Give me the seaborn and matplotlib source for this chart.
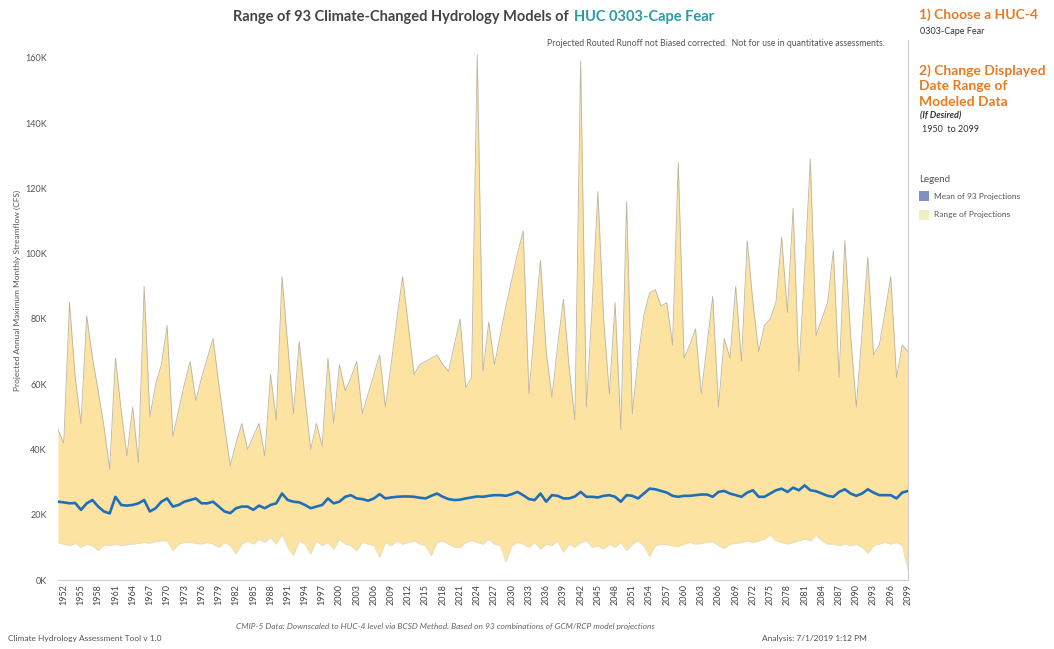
import numpy as np
import pandas as pd
import matplotlib
matplotlib.use("Agg")
import matplotlib.pyplot as plt
import seaborn as sns
from matplotlib.ticker import FuncFormatter
from matplotlib.patches import Rectangle

# ---------------- data (thousands of CFS) ----------------
years = list(range(1951, 2100))

upper_k = [
    46, 42, 85, 62, 48, 81, 68, 58, 47, 34,
    68, 52, 38, 53, 36, 90, 50, 60, 66, 78,
    44, 52, 60, 67, 55, 62, 68, 74, 60, 47,
    35, 42, 48, 40, 44, 48, 38, 63, 49, 93,
    72, 51, 73, 56, 40, 48, 41, 68, 48, 66,
    58, 62, 67, 51, 57, 63, 69, 53, 66, 80,
    93, 78, 63, 66, 67, 68, 69, 66, 64, 72,
    80, 59, 62, 161, 64, 79, 66, 75, 84, 92,
    100, 107, 57, 78, 98, 70, 56, 72, 86, 65,
    49, 159, 53, 84, 119, 80, 57, 85, 46, 116,
    51, 68, 81, 88, 89, 84, 85, 72, 128, 68,
    72, 77, 57, 72, 87, 53, 74, 68, 90, 67,
    104, 85, 70, 78, 80, 85, 105, 82, 114, 64,
    95, 129, 75, 80, 85, 101, 62, 104, 75, 53,
    76, 99, 69, 72, 82, 93, 62, 72, 70,
]

lower_k = [
    11.5, 11.0, 10.5, 11.2, 10.0, 11.0, 10.5, 9.0, 10.8, 10.5,
    11.0, 10.5, 10.8, 11.0, 11.2, 11.5, 11.3, 11.8, 12.0, 12.0,
    9.0, 11.0, 11.5, 11.5, 11.2, 11.0, 11.5, 11.0, 10.0, 11.5,
    10.5, 8.0, 11.0, 12.0, 11.0, 12.5, 11.5, 13.0, 11.0, 14.0,
    10.0, 7.5, 12.0, 11.0, 8.0, 12.0, 10.5, 11.5, 9.5, 12.5,
    11.0, 10.5, 9.0, 11.5, 11.0, 10.5, 7.0, 11.5, 10.5, 12.0,
    11.0, 11.5, 12.0, 11.0, 10.5, 7.5, 11.5, 12.0, 11.0, 10.0,
    10.0, 11.5, 12.0, 11.5, 11.0, 12.5, 11.0, 10.5, 5.5, 10.5,
    11.5, 11.0, 10.0, 11.5, 9.5, 11.0, 10.5, 12.0, 8.5, 11.0,
    10.0, 11.5, 12.0, 10.0, 10.5, 9.5, 11.0, 10.0, 11.5, 9.0,
    11.0, 12.0, 10.5, 7.2, 10.5, 11.0, 10.8, 10.5, 10.2, 11.0,
    11.5, 11.0, 11.2, 11.5, 11.8, 10.5, 9.7, 11.0, 11.2, 11.5,
    12.0, 11.5, 12.0, 12.5, 13.8, 12.0, 11.5, 11.0, 11.5, 12.0,
    12.5, 12.0, 13.8, 12.0, 11.0, 11.0, 10.5, 11.0, 10.5, 11.0,
    10.0, 8.2, 10.5, 11.0, 11.5, 11.0, 11.5, 10.5, 3.0,
]

mean_k = [
    24.0, 23.8, 23.5, 23.6, 21.5, 23.5, 24.5, 22.5, 21.0, 20.4,
    25.5, 23.0, 22.8, 23.0, 23.5, 24.5, 21.0, 22.0, 24.0, 25.0,
    22.5, 23.0, 24.0, 24.5, 25.0, 23.5, 23.5, 24.0, 22.5, 21.0,
    20.5, 22.0, 22.5, 22.5, 21.5, 22.8, 22.0, 23.0, 23.5, 26.5,
    24.5, 24.0, 23.8, 23.0, 22.0, 22.5, 23.0, 25.0, 23.5, 24.0,
    25.5, 26.0, 25.0, 24.8, 24.3, 25.0, 26.3, 25.0, 25.3, 25.5,
    25.6, 25.6, 25.5, 25.2, 25.0, 25.8, 26.5, 25.5, 24.8, 24.5,
    24.6, 25.0, 25.3, 25.6, 25.5, 25.8, 26.0, 26.0, 25.8, 26.3,
    27.0, 26.0, 24.8, 24.5, 26.5, 24.0, 26.0, 25.8, 25.0, 25.0,
    25.6, 27.0, 25.5, 25.5, 25.3, 25.8, 26.0, 25.5, 24.0, 26.0,
    25.8, 25.0, 26.5, 28.0, 27.8, 27.3, 26.8, 25.8, 25.5, 25.8,
    25.8, 26.0, 26.2, 26.2, 25.5, 27.0, 27.3, 26.5, 26.0, 25.5,
    26.8, 27.5, 25.5, 25.5, 26.5, 27.5, 28.0, 27.0, 28.3, 27.5,
    29.0, 27.5, 27.2, 26.5, 25.8, 25.5, 27.0, 27.8, 26.5, 25.8,
    26.5, 27.8, 26.8, 26.0, 26.0, 26.0, 25.0, 26.8, 27.3,
]

y_ticks_k = [0, 20, 40, 60, 80, 100, 120, 140, 160]
x_tick_years = list(range(1952, 2100, 3))

assert len(years) == len(upper_k) == len(lower_k) == len(mean_k)

# ---------------- style ----------------
sns.set_style("white")
plt.rcParams['font.family'] = ['Lato', 'DejaVu Sans']

W, H = 1054, 649
fig = plt.figure(figsize=(W / 100, H / 100), dpi=100)
ax = fig.add_axes([58 / W, 1 - 580 / H, 850 / W, 540 / H])

df = pd.DataFrame({"year": years, "upper": upper_k, "lower": lower_k, "mean": mean_k})

ax.fill_between(df["year"], df["lower"], df["upper"], color="#fce3a1", lw=0, zorder=1)
sns.lineplot(data=df, x="year", y="upper", color="#bdb4a2", lw=0.6, ax=ax, zorder=2)
sns.lineplot(data=df, x="year", y="lower", color="#e6dcc0", lw=0.6, ax=ax, zorder=2)
sns.lineplot(data=df, x="year", y="mean", color="#1f6fb8", lw=1.9, ax=ax, zorder=3)

ax.set_xlim(1951, 2099)
ax.set_ylim(0, 165.5)
ax.set_xlabel("")
ax.set_ylabel("")
ax.set_yticks(y_ticks_k)
ax.yaxis.set_major_formatter(FuncFormatter(lambda v, p: f"{int(v)}K"))
ax.set_xticks(x_tick_years)
ax.set_xticklabels([str(y) for y in x_tick_years], rotation=90, fontsize=6.5, color="#444444")
ax.tick_params(axis="y", labelsize=6.5, labelcolor="#555555", length=0, pad=8)
ax.tick_params(axis="x", length=0, pad=3)
for s in ["top", "left"]:
    ax.spines[s].set_visible(False)
for s in ["bottom", "right"]:
    ax.spines[s].set_color("#cfcfcf")
    ax.spines[s].set_linewidth(0.8)

# y label
fig.text(17 / W, 1 - 290 / H, "Projected Annual Maximum Monthly Streamflow (CFS)",
         rotation=90, ha="center", va="center", fontsize=6, color="#555555")

# title (two colours)
ty = 1 - 17 / H
fig.text(569 / W, ty, "Range of 93 Climate-Changed Hydrology Models of",
         ha="right", va="center", fontsize=10.5, fontweight="bold", color="#444444")
fig.text(574 / W, ty, "HUC 0303-Cape Fear",
         ha="left", va="center", fontsize=10.5, fontweight="bold", color="#2a9ca3")

fig.text(885 / W, 1 - 44 / H,
         "Projected Routed Runoff not Biased corrected.  Not for use in quantitative assessments.",
         ha="right", va="center", fontsize=6.3, color="#555555")

# right-hand panel
orange = "#e57b22"
fig.text(919 / W, 1 - 15 / H, "1) Choose a HUC-4", ha="left", va="center",
         fontsize=10, fontweight="bold", color=orange)
fig.text(920 / W, 1 - 31 / H, "0303-Cape Fear", ha="left", va="center",
         fontsize=6.5, color="#333333")
for i, line in enumerate(["2) Change Displayed", "Date Range of", "Modeled Data"]):
    fig.text(919 / W, 1 - (71 + 15.5 * i) / H, line, ha="left", va="center",
             fontsize=10, fontweight="bold", color=orange)
fig.text(920 / W, 1 - 116 / H, "(If Desired)", ha="left", va="center",
         fontsize=6.5, fontweight="bold", fontstyle="italic", color="#333333")
fig.text(922 / W, 1 - 130 / H, "1950  to 2099", ha="left", va="center",
         fontsize=6.5, color="#333333")

fig.text(919 / W, 1 - 180 / H, "Legend", ha="left", va="center",
         fontsize=7, color="#555555")
fig.patches.append(Rectangle((919 / W, 1 - 201 / H), 10 / W, 10 / H,
                             transform=fig.transFigure, facecolor="#7f91c4",
                             edgecolor="none", figure=fig))
fig.text(934 / W, 1 - 196 / H, "Mean of 93 Projections", ha="left", va="center",
         fontsize=6, color="#555555")
fig.patches.append(Rectangle((919 / W, 1 - 220 / H), 10 / W, 10 / H,
                             transform=fig.transFigure, facecolor="#eef0c2",
                             edgecolor="none", figure=fig))
fig.text(934 / W, 1 - 215 / H, "Range of Projections", ha="left", va="center",
         fontsize=6, color="#555555")

# footers
fig.text(445 / W, 1 - 627 / H,
         "CMIP-5 Data: Downscaled to HUC-4 level via BCSD Method. Based on 93 combinations of GCM/RCP model projections",
         ha="center", va="center", fontsize=6, fontstyle="italic", color="#666666")
fig.text(8 / W, 1 - 638 / H, "Climate Hydrology Assessment Tool v 1.0", ha="left",
         va="center", fontsize=6, color="#555555")
fig.text(762 / W, 1 - 638 / H, "Analysis: 7/1/2019 1:12 PM", ha="left",
         va="center", fontsize=6, color="#555555")

fig.savefig("out.png", dpi=100, facecolor="white")
